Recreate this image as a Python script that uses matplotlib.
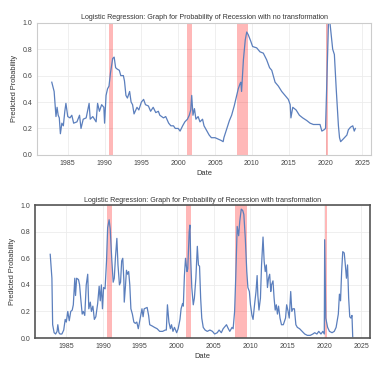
import matplotlib
matplotlib.use("Agg")
import matplotlib.pyplot as plt

# ---- data (decimal years, predicted probability) ----
yrs_plain = [1982.83, 1983.15, 1983.4, 1983.55, 1983.7, 1983.85, 1984.0, 1984.2, 1984.4, 1984.6,
             1984.75, 1985.0, 1985.3, 1985.55, 1985.8, 1986.25, 1986.6, 1986.8, 1987.1, 1987.5,
             1987.9, 1988.05, 1988.4, 1988.85, 1989.05, 1989.3, 1989.6, 1989.9, 1990.0, 1990.2,
             1990.4, 1990.6, 1990.8, 1991.1, 1991.3, 1991.5, 1991.7, 1992.0, 1992.2, 1992.55,
             1992.7, 1992.9, 1993.1, 1993.4, 1993.6, 1993.8, 1994.0, 1994.4, 1994.65, 1995.0,
             1995.3, 1995.55, 1995.95, 1996.25, 1996.6, 1996.95, 1997.3, 1997.5, 1998.0, 1998.3,
             1998.7, 1999.0, 1999.35, 1999.6, 2000.0, 2000.25, 2000.6, 2000.9, 2001.25, 2001.5,
             2001.7, 2001.83, 2002.0, 2002.2, 2002.4, 2002.7, 2002.95, 2003.3, 2003.5, 2003.9,
             2004.2, 2004.5, 2005.0, 2005.4, 2005.8, 2006.1, 2006.2, 2006.6, 2006.95, 2007.25,
             2007.6, 2007.9, 2008.15, 2008.4, 2008.5, 2008.6, 2008.85, 2009.1, 2009.3, 2009.5,
             2009.85, 2010.1, 2010.65, 2011.1, 2011.55, 2012.0, 2012.4, 2012.7, 2013.15, 2013.6,
             2014.05, 2014.5, 2014.95, 2015.2, 2015.3, 2015.55, 2016.0, 2016.45, 2016.9, 2017.45,
             2017.9, 2018.35, 2018.8, 2019.25, 2019.5, 2019.8, 2020.0, 2020.15, 2020.4, 2020.6,
             2020.97, 2021.2, 2021.45, 2021.75, 2021.9, 2022.05, 2022.4, 2022.9, 2023.1, 2023.4,
             2023.7, 2023.9, 2024.05]
prob_plain = [0.55, 0.48, 0.29, 0.36, 0.30, 0.28, 0.16, 0.24, 0.22, 0.33,
              0.39, 0.29, 0.28, 0.30, 0.24, 0.25, 0.30, 0.20, 0.27, 0.28,
              0.39, 0.27, 0.29, 0.25, 0.39, 0.33, 0.38, 0.36, 0.24, 0.45,
              0.50, 0.52, 0.62, 0.73, 0.74, 0.66, 0.65, 0.64, 0.60, 0.60,
              0.56, 0.45, 0.43, 0.48, 0.40, 0.38, 0.31, 0.36, 0.34, 0.40,
              0.42, 0.38, 0.37, 0.33, 0.36, 0.32, 0.33, 0.30, 0.28, 0.29,
              0.24, 0.22, 0.22, 0.20, 0.20, 0.18, 0.22, 0.25, 0.27, 0.30,
              0.34, 0.45, 0.30, 0.35, 0.27, 0.29, 0.25, 0.27, 0.22, 0.18,
              0.15, 0.13, 0.13, 0.12, 0.11, 0.10, 0.13, 0.20, 0.26, 0.30,
              0.37, 0.44, 0.50, 0.54, 0.55, 0.48, 0.72, 0.87, 0.93, 0.91,
              0.86, 0.82, 0.81, 0.78, 0.77, 0.72, 0.66, 0.64, 0.55, 0.52,
              0.48, 0.45, 0.42, 0.38, 0.28, 0.36, 0.34, 0.30, 0.28, 0.26,
              0.24, 0.23, 0.23, 0.23, 0.18, 0.19, 0.20, 0.50, 1.00, 1.00,
              0.80, 0.76, 0.50, 0.22, 0.13, 0.10, 0.12, 0.15, 0.19, 0.21,
              0.22, 0.18, 0.20]

yrs_trans = [1982.87, 1983.1, 1983.2, 1983.4, 1983.6, 1983.8, 1983.9, 1984.05, 1984.2, 1984.45,
             1984.7, 1984.9, 1985.05, 1985.25, 1985.45, 1985.65, 1985.85, 1986.0, 1986.2, 1986.3,
             1986.45, 1986.7, 1986.85, 1987.0, 1987.2, 1987.35, 1987.55, 1987.75, 1987.95, 1988.1,
             1988.3, 1988.45, 1988.65, 1988.85, 1989.05, 1989.3, 1989.5, 1989.65, 1989.8, 1989.95,
             1990.1, 1990.3, 1990.5, 1990.65, 1990.85, 1991.0, 1991.2, 1991.4, 1991.55, 1991.7,
             1991.9, 1992.05, 1992.25, 1992.4, 1992.55, 1992.7, 1992.85, 1992.9, 1993.05, 1993.2,
             1993.35, 1993.5, 1993.65, 1993.8, 1994.0, 1994.2, 1994.4, 1994.6, 1994.8, 1995.1,
             1995.3, 1995.45, 1995.6, 1996.0, 1996.2, 1996.35, 1996.7, 1997.0, 1997.35, 1997.7,
             1998.1, 1998.45, 1998.6, 1998.75, 1998.95, 1999.15, 1999.3, 1999.5, 1999.7, 2000.0,
             2000.2, 2000.45, 2000.6, 2000.8, 2000.9, 2001.05, 2001.2, 2001.4, 2001.5, 2001.7,
             2001.8, 2001.9, 2002.05, 2002.25, 2002.4, 2002.6, 2002.8, 2002.95, 2003.1, 2003.25,
             2003.4, 2003.6, 2003.85, 2004.15, 2004.5, 2004.85, 2005.15, 2005.5, 2005.75, 2006.05,
             2006.3, 2006.6, 2006.75, 2007.0, 2007.2, 2007.5, 2007.65, 2007.85, 2008.0, 2008.2,
             2008.4, 2008.55, 2008.75, 2008.95, 2009.1, 2009.3, 2009.5, 2009.65, 2009.85, 2010.0,
             2010.2, 2010.35, 2010.55, 2010.75, 2010.9, 2011.0, 2011.15, 2011.35, 2011.5, 2011.7,
             2011.85, 2012.0, 2012.15, 2012.3, 2012.45, 2012.6, 2012.75, 2012.85, 2013.05, 2013.2,
             2013.35, 2013.5, 2013.65, 2013.8, 2014.0, 2014.2, 2014.45, 2014.75, 2014.9, 2015.1,
             2015.25, 2015.45, 2015.6, 2015.75, 2015.95, 2016.15, 2016.35, 2016.65, 2017.0, 2017.35,
             2017.7, 2018.1, 2018.45, 2018.7, 2019.0, 2019.25, 2019.55, 2019.8, 2020.0, 2020.05,
             2020.2, 2020.45, 2020.7, 2021.05, 2021.35, 2021.6, 2021.9, 2022.05, 2022.2, 2022.35,
             2022.5, 2022.7, 2022.85, 2023.0, 2023.15, 2023.3, 2023.45, 2023.6, 2023.75, 2023.85]
prob_trans = [0.63, 0.45, 0.10, 0.04, 0.03, 0.05, 0.10, 0.04, 0.03, 0.03,
              0.06, 0.14, 0.12, 0.20, 0.13, 0.20, 0.21, 0.25, 0.45, 0.32,
              0.45, 0.44, 0.40, 0.30, 0.18, 0.20, 0.17, 0.40, 0.48, 0.22,
              0.27, 0.20, 0.24, 0.14, 0.16, 0.26, 0.39, 0.28, 0.40, 0.22,
              0.38, 0.37, 0.58, 0.83, 0.89, 0.82, 0.60, 0.42, 0.45, 0.60,
              0.75, 0.55, 0.40, 0.42, 0.58, 0.60, 0.43, 0.27, 0.38, 0.51,
              0.48, 0.50, 0.40, 0.22, 0.18, 0.12, 0.11, 0.12, 0.07, 0.16,
              0.22, 0.16, 0.22, 0.23, 0.17, 0.10, 0.09, 0.08, 0.07, 0.05,
              0.05, 0.06, 0.06, 0.25, 0.12, 0.07, 0.10, 0.05, 0.08, 0.04,
              0.07, 0.14, 0.22, 0.26, 0.24, 0.47, 0.60, 0.50, 0.52, 0.80,
              0.85, 0.60, 0.38, 0.25, 0.30, 0.45, 0.69, 0.55, 0.54, 0.30,
              0.15, 0.08, 0.06, 0.05, 0.06, 0.05, 0.03, 0.04, 0.06, 0.04,
              0.07, 0.09, 0.10, 0.07, 0.05, 0.08, 0.07, 0.20, 0.45, 0.84,
              0.77, 0.88, 0.97, 0.96, 0.93, 0.75, 0.50, 0.38, 0.35, 0.25,
              0.17, 0.14, 0.25, 0.35, 0.47, 0.32, 0.21, 0.30, 0.55, 0.76,
              0.58, 0.50, 0.55, 0.38, 0.45, 0.48, 0.35, 0.40, 0.43, 0.30,
              0.21, 0.25, 0.18, 0.24, 0.15, 0.10, 0.10, 0.15, 0.25, 0.20,
              0.15, 0.35, 0.20, 0.22, 0.22, 0.10, 0.08, 0.07, 0.05, 0.03,
              0.02, 0.02, 0.03, 0.04, 0.03, 0.05, 0.03, 0.05, 0.03, 0.74,
              0.15, 0.08, 0.05, 0.04, 0.05, 0.08, 0.18, 0.33, 0.28, 0.50,
              0.65, 0.64, 0.55, 0.45, 0.55, 0.30, 0.16, 0.15, 0.17, 0.01]

recessions = [(1990.55, 1991.2), (2001.2, 2001.9), (2007.95, 2009.5), (2020.1, 2020.3)]

titles = ["Logistic Regression: Graph for Probability of Recession with no transformation",
          "Logistic Regression: Graph for Probability of Recession with transformation"]

plt.rcParams['font.family'] = ['Liberation Sans', 'DejaVu Sans']

fig = plt.figure(figsize=(3.78, 3.67), dpi=100)
ax1 = fig.add_axes([0.098, 0.578, 0.884, 0.360])
ax2 = fig.add_axes([0.093, 0.079, 0.886, 0.362])

for ax, x, y, title in [(ax1, yrs_plain, prob_plain, titles[0]),
                        (ax2, yrs_trans, prob_trans, titles[1])]:
    ax.plot(x, y, color='#5b7fbd', linewidth=0.9)
    for start, end in recessions:
        ax.axvspan(start, end, color='red', alpha=0.28, linewidth=0)
    ax.set_xlim(1980.83, 2026.2)
    ax.set_ylim(0, 1)
    ax.set_xticks([1985, 1990, 1995, 2000, 2005, 2010, 2015, 2020, 2025])
    ax.set_yticks([0.0, 0.2, 0.4, 0.6, 0.8, 1.0])
    ax.grid(True, color='#ececec', linewidth=0.6)
    ax.set_axisbelow(True)
    ax.tick_params(length=0, labelsize=5.0, colors='#444444', pad=3.5)
    ax.set_title(title, fontsize=5.1, color='#333333', pad=2.5)
    ax.set_xlabel("Date", fontsize=5.4, color='#333333', labelpad=2)
    ax.set_ylabel("Predicted Probability", fontsize=5.3, color='#333333', labelpad=3)

for s in ax1.spines.values():
    s.set_color('#cccccc')
    s.set_linewidth(0.8)
for s in ax2.spines.values():
    s.set_color('#555555')
    s.set_linewidth(1.2)

fig.savefig("out.png", dpi=100)
